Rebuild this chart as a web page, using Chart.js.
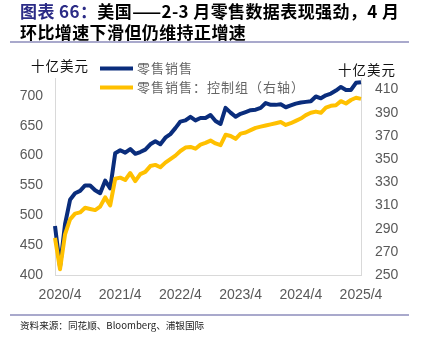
<!DOCTYPE html>
<html><head><meta charset="utf-8">
<script src="https://cdn.jsdelivr.net/npm/chart.js@4"></script>
<style>
html,body{margin:0;padding:0;background:#fff;}
#wrap{position:relative;width:424px;height:341px;overflow:hidden;font-family:"Noto Sans CJK SC",sans-serif;}
#c{position:absolute;left:0;top:0;}
.t{position:absolute;left:20px;font-size:17px;font-weight:bold;color:#000;white-space:nowrap;letter-spacing:0.4px;line-height:21px;}
.t .hd{color:#2B2B86;}
.sep{position:absolute;left:10px;width:399px;height:2px;background:#A9A9CC;}
.unit{position:absolute;font-size:13.5px;color:#111;letter-spacing:1px;line-height:16px;white-space:nowrap;}
#src{position:absolute;left:20px;top:319px;font-size:9.6px;color:#222;line-height:12px;white-space:nowrap;}
</style></head>
<body>
<div id="wrap">
<canvas id="c" width="424" height="341" style="width:424px;height:341px"></canvas>
<div class="t" style="top:0px"><span class="hd">图表 66：</span>美国——2-3 月零售数据表现强劲，4 月</div>
<div class="t" style="top:21px">环比增速下滑但仍维持正增速</div>
<div class="sep" style="top:41px"></div>
<div class="unit" style="left:31px;top:57px">十亿美元</div>
<div class="unit" style="left:338px;top:61px">十亿美元</div>
<div class="sep" style="top:314px"></div>
<div id="src">资料来源：同花顺、Bloomberg、浦银国际</div>
</div>
<script>
const months = [
 '2020/3','2020/4','2020/5','2020/6','2020/7','2020/8','2020/9','2020/10','2020/11','2020/12',
 '2021/1','2021/2','2021/3','2021/4','2021/5','2021/6','2021/7','2021/8','2021/9','2021/10','2021/11','2021/12',
 '2022/1','2022/2','2022/3','2022/4','2022/5','2022/6','2022/7','2022/8','2022/9','2022/10','2022/11','2022/12',
 '2023/1','2023/2','2023/3','2023/4','2023/5','2023/6','2023/7','2023/8','2023/9','2023/10','2023/11','2023/12',
 '2024/1','2024/2','2024/3','2024/4','2024/5','2024/6','2024/7','2024/8','2024/9','2024/10','2024/11','2024/12',
 '2025/1','2025/2','2025/3','2025/4'
];
const seriesNames = ['零售销售','零售销售：控制组（右轴）'];
const retailSales = [
 482,414,485,526,537,541,550,550,542,537,558,545,
 604,609,605,611,603,606,610,619,624,619,630,636,
 646,657,659,665,659,663,663,668,658,653,680,672,
 665,670,673,676,677,680,688,685,685,686,681,684,
 687,689,690,691,699,696,701,704,709,715,710,710,
 722,723
];
const controlGroup = [
 282,255,285,298,303,304,308,307,306,309,317,310,
 333,334,332,338,331,337,339,344,345,343,347,350,
 353,357,360,360.5,359,362.5,364,366,363.5,362,371,370,
 367.5,372,373,375,377,378,379,380,381,382,379.5,381,
 383,385,388,390,391,390,394.5,396,396.5,400,398,401,
 403,402
];
const xTickLabels = ['2020/4','2021/4','2022/4','2023/4','2024/4','2025/4'];
const leftTicks = [400,450,500,550,600,650,700];
const rightTicks = [250,270,290,310,330,350,370,390,410];

const BLUE = '#0A2D7C', YELLOW = '#FFC000', TICK = '#595959', AXIS = '#D9D9D9';
const tickFont = {family:'"Liberation Sans", Arial, sans-serif', size:14};

const legendPlugin = {
  id:'manualLegend',
  afterDraw(chart){
    const ctx = chart.ctx;
    const rows = [68.5, 87.5];
    ctx.save();
    chart.data.datasets.forEach((ds,i)=>{
      const y = rows[i];
      ctx.strokeStyle = ds.borderColor; ctx.lineWidth = 4; ctx.lineCap='butt';
      ctx.beginPath(); ctx.moveTo(100,y); ctx.lineTo(133,y); ctx.stroke();
      ctx.fillStyle = '#666';
      ctx.font = '13px "Noto Sans CJK SC", sans-serif';
      if ('letterSpacing' in ctx) ctx.letterSpacing = '1px';
      ctx.textBaseline = 'middle'; ctx.textAlign = 'left';
      ctx.fillText(ds.label, 137, y);
    });
    ctx.restore();
  }
};

new Chart(document.getElementById('c'), {
  type:'line',
  data:{
    labels: months,
    datasets:[
      {label:seriesNames[0], data:retailSales, yAxisID:'y', borderColor:BLUE, backgroundColor:BLUE, borderWidth:4, pointRadius:0, tension:0, order:2, borderJoinStyle:'round'},
      {label:seriesNames[1], data:controlGroup, yAxisID:'y1', borderColor:YELLOW, backgroundColor:YELLOW, borderWidth:4, pointRadius:0, tension:0, order:1, borderJoinStyle:'round'}
    ]
  },
  options:{
    responsive:false, animation:false, devicePixelRatio:1,
    layout:{padding:{top:78,left:0,right:0,bottom:0}},
    plugins:{legend:{display:false}, tooltip:{enabled:false}, title:{display:false}},
    scales:{
      x:{
        type:'category', offset:false,
        grid:{display:false, drawTicks:false},
        border:{display:true, color:AXIS, width:1},
        ticks:{autoSkip:false, maxRotation:0, minRotation:0, padding:12, color:TICK, font:tickFont,
          callback(v){ const l = this.getLabelForValue(v); return xTickLabels.includes(l) ? l : null; }},
        afterFit(s){ s.height = 66; }
      },
      y:{
        position:'left', min:400, max:730,
        grid:{display:false, drawTicks:false},
        border:{display:true, color:AXIS, width:1},
        ticks:{padding:12, color:TICK, font:tickFont},
        afterBuildTicks(s){ s.ticks = leftTicks.map(v=>({value:v})); },
        afterFit(s){ s.width = 55; }
      },
      y1:{
        position:'right', min:250, max:420,
        grid:{display:false, drawTicks:false},
        border:{display:true, color:AXIS, width:1},
        ticks:{padding:14, color:TICK, font:tickFont},
        afterBuildTicks(s){ s.ticks = rightTicks.map(v=>({value:v})); },
        afterFit(s){ s.width = 63; }
      }
    }
  },
  plugins:[legendPlugin]
});
</script>
</body></html>
